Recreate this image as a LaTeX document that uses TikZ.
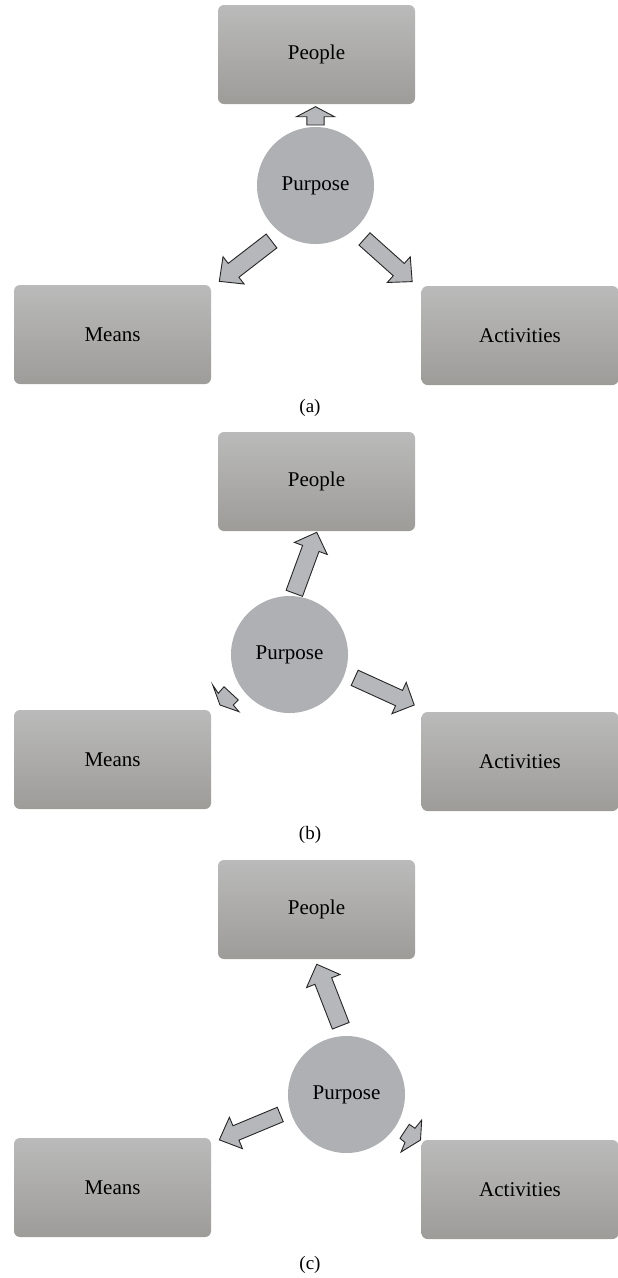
\documentclass[tikz,border=0pt]{standalone}
\usepackage{fontspec}
\setmainfont{Liberation Serif}
\usetikzlibrary{calc}
\definecolor{boxtop}{RGB}{186,186,186}
\definecolor{boxbot}{RGB}{157,156,153}
\definecolor{ballgray}{RGB}{175,176,180}
\definecolor{arrgray}{RGB}{182,183,187}
\tikzset{
	box/.style={minimum width=197, minimum height=99, rounded corners=6, top color=boxtop, bottom color=boxbot, inner sep=0, font=\fontsize{21}{25}\selectfont},
	ball/.style={circle, fill=ballgray, minimum size=117, inner sep=0, font=\fontsize{21}{25}\selectfont},
	arrowshape/.style={fill=arrgray, draw=black!85, line width=0.9, line join=miter},
	caption/.style={font=\fontsize{19}{23}\selectfont}
}
% #1 node, #2:#3 tail from node, #4 direction, #5 length, #6 head length, #7 shaft width, #8 head width
\newcommand{\blockarrow}[8]{%
	\begin{scope}[shift={($(#1)+(#2:#3)$)}, rotate=#4]
		\draw[arrowshape] (0,{-#7/2}) -- ({#5-#6},{-#7/2}) -- ({#5-#6},{-#8/2}) -- (#5,0) -- ({#5-#6},{#8/2}) -- ({#5-#6},{#7/2}) -- (0,{#7/2}) -- cycle;
	\end{scope}}

\begin{document}
\begin{tikzpicture}[x=1pt, y=1pt]
			%%%%% START %%%%%
			\useasboundingbox (0,0) rectangle (618,-1278);
			
			% (a)
			\node[box] (peopleA) at (316.5,-54.5) {People};
			\node[box] (meansA) at (112.5,-334.5) {Means};
			\node[box] (actA) at (520,-335.5) {Activities};
			\node[ball] (purpA) at (315.5,-185.5) {Purpose};
			\blockarrow{purpA}{90}{60.5}{90}{18.3}{10}{17.3}{38}
			\blockarrow{purpA}{231.6}{70.8}{217.7}{66}{18}{17.5}{34.5}
			\blockarrow{purpA}{-47.5}{72.5}{-41.8}{64}{18}{16.5}{34.5}
			\node[caption] (capA) at (310,-408) {(a)};
			
			% (b)
			\node[box] (peopleB) at (316.5,-481.5) {People};
			\node[box] (meansB) at (112.5,-759.5) {Means};
			\node[box] (actB) at (520,-761.5) {Activities};
			\node[ball] (purpB) at (289.5,-654.5) {Purpose};
			\blockarrow{purpB}{85.5}{61.4}{69.8}{65}{17.2}{17.5}{35}
			\blockarrow{purpB}{-19.7}{69.2}{-24.5}{65.5}{16.7}{16.8}{34.4}
			% squashed arrow towards means
			\draw[arrowshape, shift={(purpB)}] (-76.8,-30.5) -- (-71.2,-38.8) -- (-65.5,-32.2) -- (-51.2,-45.5) -- (-56.2,-50.5) -- (-50.5,-57.2) -- (-69.5,-50.5) -- cycle;
			\node[caption] (capB) at (310,-835) {(b)};
			
			% (c)
			\node[box] (peopleC) at (316.5,-909.5) {People};
			\node[box] (meansC) at (112.5,-1187.5) {Means};
			\node[box] (actC) at (520,-1189.5) {Activities};
			\node[ball] (purpC) at (346.5,-1094.5) {Purpose};
			\blockarrow{purpC}{94.8}{69}{111.3}{66}{18}{18}{36}
			\blockarrow{purpC}{196.8}{69.2}{202.6}{66}{18}{15.6}{34}
			% squashed arrow towards activities
			\draw[arrowshape, shift={(purpC)}] (75.2,-25.5) -- (68.5,-33.8) -- (62.8,-29.8) -- (53.5,-43.8) -- (58.5,-48) -- (54.5,-57.5) -- (74,-45.5) -- cycle;
			\node[caption] (capC) at (310,-1265) {(c)};
			%%%%% END %%%%%
\end{tikzpicture}
\end{document}
